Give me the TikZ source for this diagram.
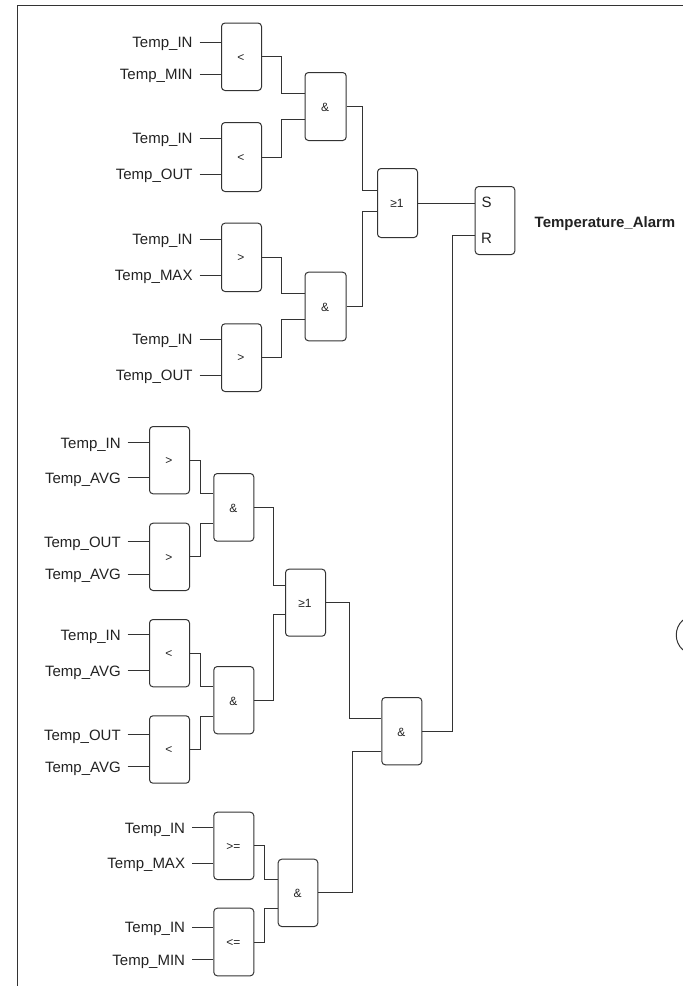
\documentclass[tikz,border=0pt]{standalone}
\usepackage{fontspec}
\setmainfont{Liberation Sans}
\definecolor{ink}{HTML}{222222}
\definecolor{wire}{HTML}{333333}
\tikzset{
  gate/.style={draw=wire,line width=1pt,rounded corners=3.5pt,inner sep=0pt,anchor=north west,font=\fontsize{12}{12}\selectfont,text=ink},
  gatetext/.style={inner sep=0pt,font=\fontsize{12}{12}\selectfont,text=ink},
  varlabel/.style={anchor=east,inner xsep=6.8pt,inner ysep=0pt,text=ink,font=\fontsize{15}{16}\selectfont,text height=14.4pt,text depth=3pt},
  conn/.style={draw=wire,line width=1pt},
}
% \gatebox{name}{x0}{y0}{x1}{y1}{text}
\newcommand{\gatebox}[6]{\node[gate,minimum width=#4pt-#2pt,minimum height=#5pt-#3pt] (#1) at (#2,#3) {};\node[gatetext] (#1text) at ([xshift=-0.5pt,yshift=-0.8pt]#1.center) {#6};}
% \inwire{labelname}{text}{x of wire start}{y}{gate}
\newcommand{\inwire}[5]{\node[varlabel] (#1) at (#3,#4) {#2};\draw[conn] (#1.east) -- (#1.east -| #5.west);}
% \link{from}{mid x}{pin y}{to}
\newcommand{\link}[4]{\coordinate (#1to#4) at (#2,#3);\draw[conn] (#1.east) -| (#1to#4) -- (#1to#4 -| #4.west);}
\begin{document}
\begin{tikzpicture}[x=1pt,y=-1pt]
\useasboundingbox (0,0) rectangle (683,986);
\coordinate (frameA) at (17,986);
\coordinate (frameB) at (17,5);
\coordinate (frameC) at (683,5);
\draw[conn] (frameA) -- (frameB) -- (frameC);
\draw[conn] (683,620) .. controls (674,628) and (674,642) .. (683,650);

% top group
\gatebox{a1}{221}{22.5}{261}{90}{<}
\gatebox{a2}{221}{122}{261}{191}{<}
\gatebox{a3}{221}{222.7}{261}{291}{>}
\gatebox{a4}{221}{323.3}{261}{391}{>}
\gatebox{b1}{304.5}{72}{345.7}{140}{\&}
\gatebox{b2}{304.5}{271.7}{345.7}{340.3}{\&}
\gatebox{or1}{377}{168}{417}{237}{≥1}
\node[gate,minimum width=39.6pt,minimum height=68pt] (sr) at (474.7,186) {};
\node[font=\fontsize{15}{16}\selectfont,text=ink,inner sep=0pt] (srS) at (486.5,202) {S};
\node[font=\fontsize{15}{16}\selectfont,text=ink,inner sep=0pt] (srR) at (486.5,238) {R};
\node[anchor=west,inner sep=0pt,text=ink,font=\fontsize{15}{16}\selectfont\bfseries] (alarm) at (534.5,223.5) {Temperature\_Alarm};

\inwire{l1}{Temp\_IN}{199.5}{42}{a1}
\inwire{l2}{Temp\_MIN}{199.5}{74}{a1}
\inwire{l3}{Temp\_IN}{199.5}{138}{a2}
\inwire{l4}{Temp\_OUT}{199.5}{174}{a2}
\inwire{l5}{Temp\_IN}{199.5}{239}{a3}
\inwire{l6}{Temp\_MAX}{199.5}{275}{a3}
\inwire{l7}{Temp\_IN}{199.5}{339}{a4}
\inwire{l8}{Temp\_OUT}{199.5}{375}{a4}

\link{a1}{281}{93}{b1}
\link{a2}{281}{119.5}{b1}
\link{a3}{281}{293}{b2}
\link{a4}{281}{319}{b2}
\link{b1}{362}{190.5}{or1}
\link{b2}{362}{211.5}{or1}
\draw[conn] (or1.east) -- (or1.east -| sr.west);

% middle group
\gatebox{c1}{149}{426}{189}{493.3}{>}
\gatebox{c2}{149}{522.7}{189}{590}{>}
\gatebox{c3}{149}{619}{189}{686.3}{<}
\gatebox{c4}{149}{715.3}{189}{782.7}{<}
\gatebox{d1}{213.3}{473}{253.3}{540.7}{\&}
\gatebox{d2}{213.3}{666}{253.3}{733.3}{\&}
\gatebox{or2}{285}{568.7}{325}{635.7}{≥1}
\gatebox{f}{381.3}{697}{421.3}{764.3}{\&}

\inwire{m1}{Temp\_IN}{127.7}{442.3}{c1}
\inwire{m2}{Temp\_AVG}{127.7}{477.5}{c1}
\inwire{m3}{Temp\_OUT}{127.7}{541.7}{c2}
\inwire{m4}{Temp\_AVG}{127.7}{574}{c2}
\inwire{m5}{Temp\_IN}{127.7}{634.7}{c3}
\inwire{m6}{Temp\_AVG}{127.7}{670.3}{c3}
\inwire{m7}{Temp\_OUT}{127.7}{734.3}{c4}
\inwire{m8}{Temp\_AVG}{127.7}{766.3}{c4}

\link{c1}{200.5}{493.7}{d1}
\link{c2}{200.5}{523.3}{d1}
\link{c3}{200.5}{686.3}{d2}
\link{c4}{200.5}{716.3}{d2}
\link{d1}{273.5}{585.7}{or2}
\link{d2}{273.5}{614.3}{or2}
\link{or2}{349.3}{718.3}{f}

% bottom group
\gatebox{g1}{213.3}{811.7}{253.3}{879}{>=}
\gatebox{g2}{213.3}{907.7}{253.3}{975.3}{<=}
\gatebox{h}{277.7}{858.7}{317.3}{926}{\&}

\inwire{n1}{Temp\_IN}{192}{827.7}{g1}
\inwire{n2}{Temp\_MAX}{192}{863}{g1}
\inwire{n3}{Temp\_IN}{192}{927}{g2}
\inwire{n4}{Temp\_MIN}{192}{959.3}{g2}

\link{g1}{264.7}{879}{h}
\link{g2}{264.7}{908.7}{h}
\link{h}{352.7}{751.7}{f}

% reset
\coordinate (rpin) at (452,235.5);
\draw[conn] (f.east) -| (rpin) -- (rpin -| sr.west);
\end{tikzpicture}
\end{document}
